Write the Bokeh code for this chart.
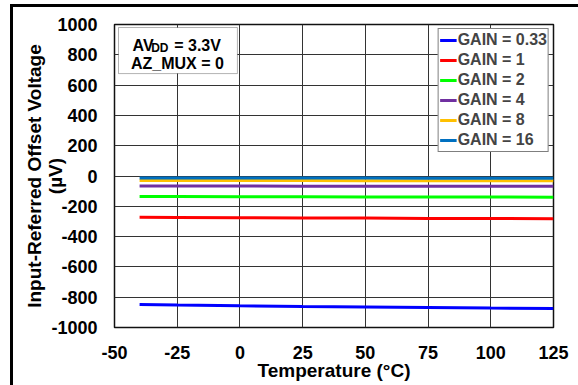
from bokeh.plotting import figure
from bokeh.models import BoxAnnotation, Label, Legend, LegendItem, FixedTicker
from bokeh.embed import file_html
from bokeh.resources import INLINE

# ---- data ----
temperature = [-40, -25, 0, 25, 50, 75, 100, 125]
gain_033 = [-848, -852, -857, -861, -864, -868, -872, -875]
gain_1 = [-273, -274, -276, -277, -278, -280, -281, -282]
gain_2 = [-136, -136, -137, -137, -138, -138, -139, -140]
gain_4 = [-66, -66, -66, -67, -67, -67, -68, -68]
gain_8 = [-30, -30, -30, -30, -31, -31, -31, -31]
gain_16 = [-14, -14, -14, -14, -14, -15, -15, -15]

series_labels = ["GAIN = 0.33", "GAIN = 1", "GAIN = 2", "GAIN = 4", "GAIN = 8", "GAIN = 16"]
series_values = [gain_033, gain_1, gain_2, gain_4, gain_8, gain_16]
series_colors = ["#0000FF", "#FF0000", "#00FF00", "#7030A0", "#FFC000", "#0070C0"]

x_ticks = [-50, -25, 0, 25, 50, 75, 100, 125]
y_ticks = [-1000, -800, -600, -400, -200, 0, 200, 400, 600, 800, 1000]

FONT = "Liberation Sans"

p = figure(
    output_backend="svg", toolbar_location=None,
    frame_width=439, frame_height=303,
    min_border_left=101, min_border_right=25, min_border_top=17, min_border_bottom=58,
    x_range=(-50, 125), y_range=(-1000, 1000),
)
p.styles = {"margin-left": "10px", "margin-top": "4px",
            "border-top": "3px solid black", "border-left": "3px solid black"}

p.outline_line_color = "#111111"
p.outline_line_width = 1.5

for ax in (p.xaxis[0], p.yaxis[0]):
    ax.axis_line_color = None
    ax.major_tick_line_color = None
    ax.minor_tick_line_color = None
    ax.major_tick_out = 0
    ax.major_label_text_font = FONT
    ax.major_label_text_font_style = "bold"
    ax.major_label_text_font_size = "18px"
    ax.major_label_text_color = "black"
    ax.axis_label_text_font = FONT
    ax.axis_label_text_font_style = "bold"
    ax.axis_label_text_font_size = "19px"
    ax.axis_label_text_color = "black"
    ax.axis_label_text_line_height = 1.0

p.xaxis.ticker = FixedTicker(ticks=x_ticks)
p.yaxis.ticker = FixedTicker(ticks=y_ticks)
p.xaxis.major_label_overrides = {t: str(t) for t in x_ticks}
p.yaxis.major_label_overrides = {t: str(t) for t in y_ticks}
p.xaxis.major_label_standoff = 18
p.yaxis.major_label_standoff = 17
p.xaxis.axis_label = "Temperature (°C)"
p.xaxis.axis_label_standoff = -2
p.yaxis.axis_label = "Input-Referred Offset Voltage\n(µV)"
p.yaxis.axis_label_standoff = -18

p.xgrid.grid_line_color = "#333333"
p.ygrid.grid_line_color = "#333333"
p.xgrid.grid_line_width = 1
p.ygrid.grid_line_width = 1

items = []
for lab, vals, col in zip(series_labels, series_values, series_colors):
    r = p.line(temperature, vals, line_color=col, line_width=3)
    items.append(LegendItem(label=lab, renderers=[r]))

legend = Legend(items=items, location="top_right")
legend.label_text_font = FONT
legend.label_text_font_style = "bold"
legend.label_text_font_size = "16px"
legend.label_standoff = 1
legend.glyph_width = 17
legend.glyph_height = 20
legend.label_height = 20
legend.spacing = 0
legend.padding = 1
legend.margin = 4
legend.border_line_color = "black"
legend.border_line_width = 1
legend.background_fill_alpha = 1
p.add_layout(legend)

box = BoxAnnotation(left=-48.4, right=-1, top=980, bottom=676,
                    fill_color="white", fill_alpha=1, line_color="black", line_width=1)
p.add_layout(box)

common = dict(text_font=FONT, text_font_style="bold", text_color="black", text_baseline="alphabetic")
p.add_layout(Label(x=-42.8, y=861, text="AV", text_font_size="16px", **common))
p.add_layout(Label(x=-35.4, y=843, text="DD", text_font_size="12px", **common))
p.add_layout(Label(x=-26.2, y=861, text="= 3.3V", text_font_size="16px", **common))
p.add_layout(Label(x=-24.9, y=740, text="AZ_MUX = 0", text_font_size="16px", text_align="center", **common))

open("out.html", "w").write(file_html(p, INLINE))
